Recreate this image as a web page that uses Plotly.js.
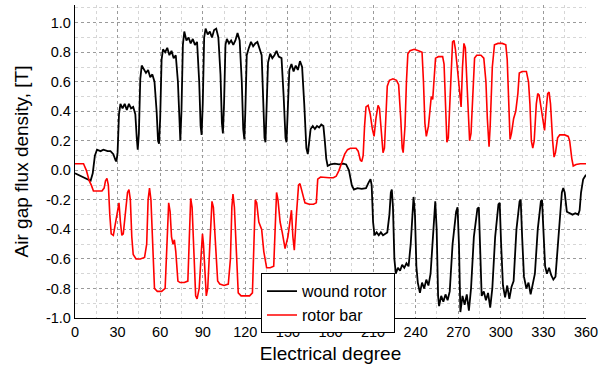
<!DOCTYPE html>
<html>
<head>
<meta charset="utf-8">
<script src="https://cdn.plot.ly/plotly-3.0.1.min.js"></script>
<style>html,body{margin:0;padding:0;background:#fff;}#chart{width:600px;height:365px;}</style>
</head>
<body>
<div id="chart"></div>
<script>
// Wound rotor (black) — electrical degree vs flux density [T]
const woundDeg = [0,4,8,11,12.5,14,15.5,18,20,23,25,27,28.5,29.2,30,31,32,33.5,35,36.5,38,39.5,41,42.5,43.5,44.2,45,46,47,48.5,50,51.5,53,54.5,56,57.5,58.5,59.2,60,61,62,63.5,65,66.5,68,69.5,71,72.5,73.5,74.2,75,76,77,78.5,80,81.5,83,84.5,86,87.5,88.5,89.2,90,91,92,93.5,95,96.5,98,99.5,101,102.5,103.5,104.2,105,106,107,108.5,110,111.5,113,114.5,116,117.5,118.5,119.3,120,121,122.5,124,125.5,127,128.5,130,131.5,132.5,133.5,134.2,135,136,137.5,139,140.5,142,143.5,145.5,147,148.3,149,150,151,152.5,154,155.5,157,158.5,160,161.5,163,164,165,166,167.5,169,170.5,172,173.5,175,176,177,178,180,183,186,189,191,193,195,196.5,199,202,205,207,208.2,209,210,211,212.5,214,215.5,217,218.5,220,221.5,222.5,223.2,224,225,226,227.5,229,230.5,232,233.5,235,236.5,237.8,238.5,239.5,240.5,241.5,243,244.5,246,247.5,249,250.5,252.5,253.8,254.8,255.8,256.5,258,259.5,261,262.5,264,266,268.5,269.5,270.5,271.5,273,274.5,276,277.5,279,281,283.5,284.5,285.5,286.5,288,289.5,291,292.5,294,296,298.3,299.2,300.2,301.5,303,304.5,306,307.5,309,311,313.2,314,315,316.3,318,319.5,321,322.5,324,326,328.2,329,330,331.2,332.5,334,335.5,337,338.5,340.5,343,344,345,346.5,348.5,350.5,352.5,354.5,355.5,356.5,358,360];
const woundB = [-0.02,-0.04,-0.06,-0.07,-0.02,0.10,0.14,0.13,0.14,0.13,0.13,0.11,0.07,0.06,0.12,0.38,0.45,0.42,0.45,0.41,0.45,0.42,0.43,0.38,0.22,0.14,0.25,0.62,0.71,0.68,0.66,0.68,0.63,0.65,0.60,0.40,0.20,0.18,0.35,0.75,0.82,0.80,0.83,0.78,0.81,0.76,0.78,0.60,0.30,0.20,0.40,0.85,0.94,0.88,0.90,0.86,0.89,0.85,0.87,0.60,0.30,0.24,0.45,0.90,0.96,0.92,0.94,0.90,0.95,0.96,0.90,0.65,0.32,0.25,0.45,0.85,0.89,0.86,0.88,0.85,0.88,0.93,0.88,0.60,0.28,0.21,0.40,0.78,0.83,0.87,0.84,0.86,0.87,0.83,0.78,0.50,0.22,0.19,0.40,0.73,0.79,0.76,0.78,0.81,0.77,0.76,0.50,0.22,0.19,0.40,0.68,0.72,0.67,0.71,0.68,0.74,0.70,0.45,0.15,0.11,0.18,0.28,0.30,0.28,0.30,0.29,0.31,0.30,0.20,0.08,0.03,0.04,0.045,0.04,0.045,0.04,0.0,-0.10,-0.13,-0.12,-0.125,-0.12,-0.08,-0.06,-0.10,-0.35,-0.44,-0.42,-0.44,-0.42,-0.44,-0.43,-0.42,-0.30,-0.15,-0.13,-0.25,-0.60,-0.70,-0.66,-0.68,-0.64,-0.66,-0.63,-0.65,-0.50,-0.22,-0.18,-0.30,-0.65,-0.76,-0.83,-0.76,-0.80,-0.74,-0.78,-0.70,-0.35,-0.21,-0.40,-0.85,-0.92,-0.85,-0.89,-0.84,-0.88,-0.82,-0.50,-0.28,-0.25,-0.50,-0.96,-0.85,-0.91,-0.84,-0.95,-0.80,-0.45,-0.26,-0.25,-0.55,-0.85,-0.82,-0.88,-0.83,-0.93,-0.80,-0.45,-0.23,-0.22,-0.50,-0.78,-0.86,-0.78,-0.87,-0.79,-0.75,-0.40,-0.21,-0.20,-0.45,-0.72,-0.80,-0.76,-0.84,-0.77,-0.70,-0.40,-0.21,-0.20,-0.45,-0.65,-0.70,-0.66,-0.71,-0.74,-0.72,-0.45,-0.15,-0.12,-0.15,-0.28,-0.29,-0.30,-0.29,-0.30,-0.27,-0.15,-0.06,-0.03];

// Rotor bar (red)
const barDeg = [0,3,6,8,10,11.5,13,16,19,20.5,21.5,22.5,23.5,24.5,25.5,27,28.5,30,31,32,33,34,35.5,37,38,39,40,41,43,46,49,50.5,51.5,52.5,53.5,55,56,58,61,63.5,65,66,67,68,69,70,71,72.5,74,77,79.5,80.5,81.5,82.5,83.5,85,86,87.5,89,89.8,90.5,91.5,92.5,93.5,95,96.5,97.5,99,100.5,102,105,108,109.5,110.5,111.3,112.3,113.5,115,117,120,123,125,126,127,128,129.5,131.5,133,135,137.5,140,141,142,143,144.5,146,148,150,152.5,153.5,154.5,156,157.5,158.5,160,162,165,168,170,171,173,176,179,182,184,186,188,190,192,194,196,198,199.5,201,202,203,204,205,206.5,208,209.5,210.7,212,213.5,214.5,215.5,217,218,219,220,221.5,224,226.5,228,229.5,230.5,231.2,232.5,233.5,234.5,236,239,242,244.5,245.5,246.5,247.5,249,250,251,252,253,254,256,259,260,261,262,263,264.5,266,267,268,269.5,271,272,273,274,275,276.5,278,279,280.5,281.5,283,286,288,289.5,290.5,291.7,292.5,294,295.5,298,301,303.5,304.5,305.5,306.5,307.5,309,310.5,312,313,315,318,319.5,320.5,321.5,322.5,323.5,325,326,327,328.5,330,330.8,331.8,333,334,335,336.5,337.5,338.5,340,341.5,345,347.5,348.5,350,351,353,356,360];
const barB = [0.045,0.045,0.045,0.0,-0.07,-0.10,-0.14,-0.14,-0.14,-0.12,-0.07,-0.055,-0.10,-0.30,-0.43,-0.44,-0.35,-0.25,-0.22,-0.35,-0.44,-0.43,-0.30,-0.15,-0.13,-0.20,-0.45,-0.57,-0.60,-0.60,-0.59,-0.50,-0.20,-0.12,-0.20,-0.60,-0.80,-0.82,-0.82,-0.80,-0.50,-0.22,-0.28,-0.45,-0.50,-0.47,-0.55,-0.75,-0.76,-0.76,-0.75,-0.40,-0.19,-0.25,-0.55,-0.85,-0.87,-0.80,-0.55,-0.43,-0.50,-0.70,-0.85,-0.80,-0.50,-0.21,-0.25,-0.55,-0.75,-0.77,-0.78,-0.77,-0.60,-0.25,-0.16,-0.25,-0.55,-0.83,-0.85,-0.85,-0.85,-0.83,-0.50,-0.20,-0.22,-0.35,-0.40,-0.55,-0.66,-0.66,-0.65,-0.35,-0.15,-0.20,-0.35,-0.42,-0.53,-0.45,-0.27,-0.45,-0.54,-0.30,-0.10,-0.09,-0.15,-0.22,-0.23,-0.23,-0.22,-0.06,-0.045,-0.05,-0.05,-0.05,-0.04,0.0,0.05,0.11,0.14,0.15,0.15,0.15,0.13,0.07,0.06,0.10,0.30,0.43,0.44,0.38,0.28,0.23,0.35,0.44,0.42,0.30,0.12,0.15,0.40,0.57,0.61,0.62,0.61,0.58,0.35,0.15,0.12,0.30,0.60,0.79,0.81,0.82,0.81,0.80,0.60,0.32,0.23,0.30,0.40,0.50,0.48,0.65,0.76,0.77,0.77,0.72,0.40,0.19,0.22,0.50,0.87,0.88,0.82,0.68,0.50,0.43,0.70,0.86,0.83,0.50,0.20,0.25,0.60,0.76,0.78,0.78,0.76,0.60,0.35,0.16,0.30,0.70,0.85,0.86,0.86,0.85,0.75,0.45,0.21,0.25,0.35,0.40,0.52,0.66,0.67,0.67,0.60,0.45,0.20,0.15,0.20,0.45,0.52,0.51,0.40,0.30,0.27,0.40,0.52,0.53,0.45,0.20,0.09,0.12,0.22,0.24,0.24,0.23,0.20,0.08,0.03,0.04,0.045,0.045];

const seriesNames = ["wound rotor", "rotor bar"];
const xTickVals = [0,30,60,90,120,150,180,210,240,270,300,330,360];
const yTickVals = [-1.0,-0.8,-0.6,-0.4,-0.2,0.0,0.2,0.4,0.6,0.8,1.0];
const yTickText = ["-1.0","-0.8","-0.6","-0.4","-0.2","0.0","0.2","0.4","0.6","0.8","1.0"];

const fontFam = '"Liberation Sans", Arial, sans-serif';

const traces = [
  {x: woundDeg, y: woundB, name: seriesNames[0], type: 'scatter', mode: 'lines',
   line: {color: '#000000', width: 1.8}},
  {x: barDeg, y: barB, name: seriesNames[1], type: 'scatter', mode: 'lines',
   line: {color: '#ff0000', width: 1.6}}
];

const layout = {
  width: 600, height: 365,
  margin: {l: 75, r: 14, t: 5, b: 47},
  paper_bgcolor: '#ffffff', plot_bgcolor: '#ffffff',
  font: {family: fontFam, color: '#000000', size: 14},
  showlegend: true,
  legend: {x: 0.364, y: 0.143, xanchor: 'left', yanchor: 'top',
    bgcolor: '#ffffff', bordercolor: '#000000', borderwidth: 1,
    font: {family: fontFam, size: 16, color: '#000'}, tracegroupgap: 0},
  xaxis: {
    range: [0, 360], tickmode: 'array', tickvals: xTickVals,
    ticks: '', showline: true, linecolor: '#000', linewidth: 1.2,
    showgrid: true, gridcolor: '#9a9a9a', griddash: '3px,3px', gridwidth: 1,
    zeroline: false, tickfont: {size: 14.5},
    minor: {dtick: 15, showgrid: true, gridcolor: '#d6d6d6', griddash: '3px,3px'},
    title: {text: 'Electrical degree', font: {size: 19}, standoff: 8}
  },
  yaxis: {
    range: [-1, 1.12], tickmode: 'array', tickvals: yTickVals, ticktext: yTickText,
    ticks: '', showline: true, linecolor: '#000', linewidth: 1.2,
    showgrid: true, gridcolor: '#9a9a9a', griddash: '3px,3px', gridwidth: 1,
    zeroline: false, tickfont: {size: 14.5},
    minor: {dtick: 0.1, tick0: 0, showgrid: true, gridcolor: '#d6d6d6', griddash: '3px,3px'},
    title: {text: 'Air gap flux density, [T]', font: {size: 19}, standoff: 12}
  }
};

Plotly.newPlot('chart', traces, layout, {staticPlot: true, displayModeBar: false});
</script>
</body>
</html>
